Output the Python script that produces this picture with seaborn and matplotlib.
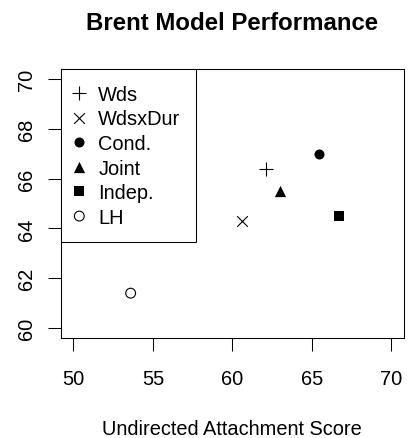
import pandas as pd
import seaborn as sns
import matplotlib.pyplot as plt

# values
models = ['Wds', 'WdsxDur', 'Cond.', 'Joint', 'Indep.', 'LH']
uas = [62.1, 60.6, 65.45, 63.0, 66.7, 53.6]
perf = [66.4, 64.3, 67.0, 65.5, 64.5, 61.4]
x_ticks = [50, 55, 60, 65, 70]
y_ticks = [60, 62, 64, 66, 68, 70]

df = pd.DataFrame({'Model': models, 'UAS': uas, 'Perf': perf})

sns.set_style('ticks')
plt.rcParams['font.family'] = ['Liberation Sans', 'DejaVu Sans']
plt.rcParams['text.color'] = 'black'
plt.rcParams['axes.labelcolor'] = 'black'
fs = 14.4

# marker, size (pt^2), facecolor, linewidth
styles = {
    'Wds': ('+', 112, 'black', 0.8),
    'WdsxDur': ('x', 59, 'black', 0.8),
    'Cond.': ('o', 52, 'black', 0),
    'Joint': ('^', 66, 'black', 0),
    'Indep.': ('s', 45, 'black', 0),
    'LH': ('o', 50, 'none', 0.8),
}

fig = plt.figure(figsize=(4.12, 4.39), dpi=100)
ax = fig.add_axes([60.7/412, 1-339/439, (404-60.7)/412, (339-70)/439])

for name in models:
    m, s, fc, lw = styles[name]
    sub = df[df.Model == name]
    sns.scatterplot(data=sub, x='UAS', y='Perf', marker=m, s=s, color='black',
                    facecolor=fc, edgecolor='black', linewidth=lw, label=name, ax=ax)

ax.set_xlim(49.2, 70.8)
ax.set_ylim(59.6, 70.4)
ax.set_xticks(x_ticks)
ax.set_yticks(y_ticks)
ax.set_yticklabels([str(v) for v in y_ticks], rotation=90, va='center')
ax.tick_params(axis='both', labelsize=fs, length=9.4, width=0.75, color='black', labelcolor='black')
ax.tick_params(axis='x', pad=13)
ax.tick_params(axis='y', pad=8.6)
for sp in ax.spines.values():
    sp.set_visible(True)
    sp.set_color('black')
    sp.set_linewidth(0.75)

ax.set_xlabel('Undirected Attachment Score', fontsize=fs, color='black')
ax.xaxis.set_label_coords(0.5, -0.30)
ax.set_ylabel('')
ax.set_title('Brent Model Performance', fontsize=fs*1.2, fontweight='bold',
             color='black', pad=28.5)

leg = ax.legend(loc='upper left', bbox_to_anchor=(0, 1), borderaxespad=0,
                frameon=True, fancybox=False, edgecolor='black', framealpha=1,
                fontsize=fs, handlelength=0.36, handletextpad=0.77, borderpad=0.75,
                handleheight=1.0, labelspacing=0.24, scatterpoints=1)
leg.get_frame().set_linewidth(0.75)

fig.savefig('out.png', dpi=100)
